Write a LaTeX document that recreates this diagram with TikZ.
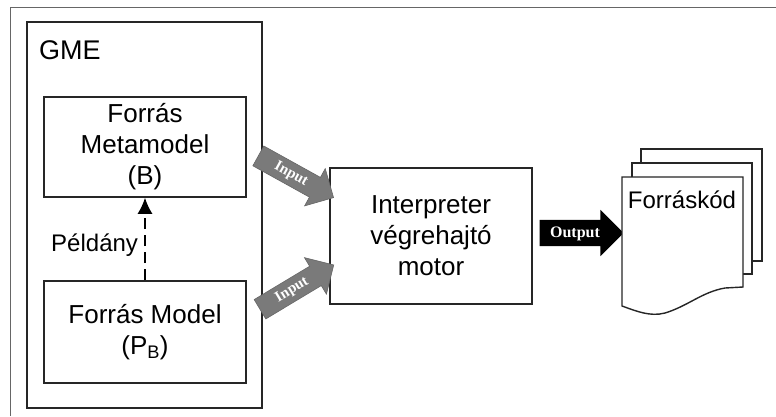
\documentclass[tikz,border=0pt]{standalone}
\usepackage{fontspec}
\setmainfont{Liberation Sans}
\newfontfamily\arrowfont{Liberation Serif}
\usetikzlibrary{shapes.arrows,arrows.meta}

\tikzset{
  box/.style={draw=black!85, line width=1.6pt, minimum width=202pt, align=center,
    font=\fontsize{26}{31}\selectfont},
  inarrow/.style={single arrow, fill=black!52, draw=black!60, line width=0.6pt,
    text=white, font=\arrowfont\bfseries\fontsize{15}{15}\selectfont,
    text height=10.5pt, text depth=3.5pt, inner xsep=2pt, inner ysep=4pt,
    minimum height=86pt, single arrow head extend=10pt},
  outarrow/.style={single arrow, fill=black, text=white,
    font=\arrowfont\bfseries\fontsize{16}{16}\selectfont,
    text height=12pt, text depth=4pt, inner xsep=2pt, inner ysep=5pt,
    minimum height=84pt, single arrow head extend=10pt},
  page/.style={draw=black!85, line width=1.4pt, fill=white}
}

\begin{document}
\begin{tikzpicture}[x=1pt, y=-1pt]
\useasboundingbox (0,0) rectangle (776,416);
\draw[black!60, line width=0.8pt] (10,416) -- (10,7) -- (776,7);

\draw[draw=black!85, line width=1.6pt] (27,22) rectangle (262,408);
\node[anchor=north west, inner sep=0pt, font=\fontsize{27}{27}\selectfont] (gme) at (39,40) {GME};

\node[box, minimum height=100pt] (meta) at (145,147) {Forrás\\Metamodel\\(B)};
\node[box, minimum height=102pt] (model) at (145,332) {Forrás Model\\(P\textsubscript{B})};
\draw[line width=1.4pt, dash pattern=on 11pt off 6pt, -{Latex[length=16pt,width=15pt]}]
  (model.north) -- node[pos=0.43, left=3pt, font=\fontsize{24}{24}\selectfont] (peldany) {Példány} (meta.south);

\node[box, minimum height=136pt] (interp) at (431,236) {Interpreter\\végrehajtó\\motor};

\node[inarrow, rotate=-29] (in1) at (291,174) {Input};
\node[inarrow, rotate=31] (in2) at (292,290) {Input};
\node[outarrow] (out) at (575,233) {Output};

\draw[page] (641,149) rectangle (762,261);
\draw[page] (632,163) rectangle (752,274);
\draw[page] (622,306) -- (622,177) -- (743,177) -- (743,287) -- (725,288)
  .. controls (702,292) and (688,306) .. (665,313)
  .. controls (650,317) and (636,311) .. (622,306) -- cycle;
\node[font=\fontsize{24}{24}\selectfont] (kod) at (682,200) {Forráskód};
\end{tikzpicture}
\end{document}
